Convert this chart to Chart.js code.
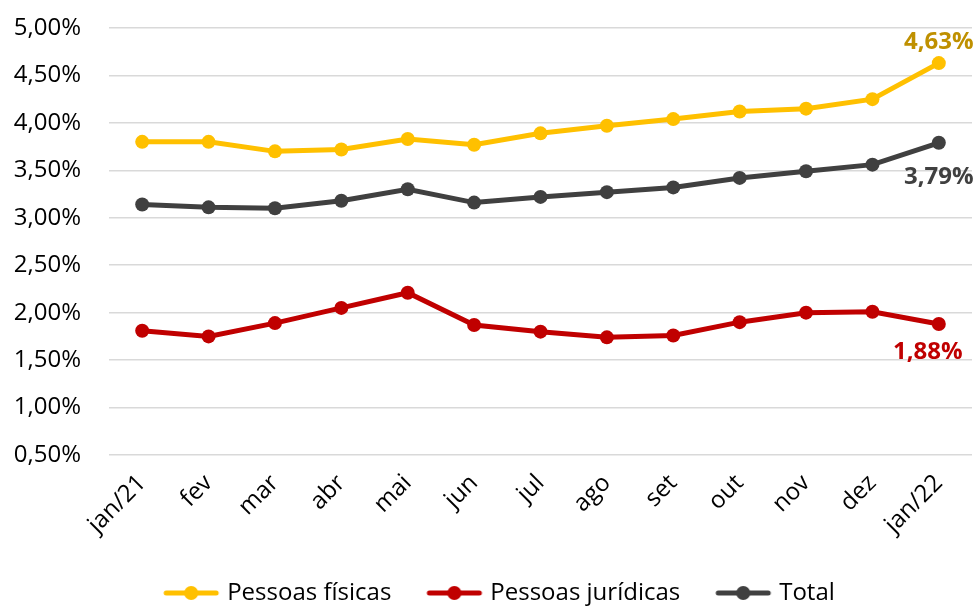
<!DOCTYPE html><html lang="pt"><meta charset="utf-8">
<title>Inadimplência</title>
<script src="https://cdn.jsdelivr.net/npm/chart.js@4.4.1"></script>
<style>
body{margin:0;background:#fff}
#wrap{width:979px;height:607px}
</style>
<body>
<div id="wrap"><canvas id="chart" width="979" height="607"></canvas></div>
<script>
const meses = ['jan/21','fev','mar','abr','mai','jun','jul','ago','set','out','nov','dez','jan/22'];
const pessoasFisicas  = [3.80,3.80,3.70,3.72,3.83,3.77,3.89,3.97,4.04,4.12,4.15,4.25,4.63];
const pessoasJuridicas= [1.81,1.75,1.89,2.05,2.21,1.87,1.80,1.74,1.76,1.90,2.00,2.01,1.88];
const total           = [3.14,3.11,3.10,3.18,3.30,3.16,3.22,3.27,3.32,3.42,3.49,3.56,3.79];

const FONT = '"Open Sans", "Noto Sans", sans-serif';
const pct = v => v.toFixed(2).replace('.', ',') + '%';

// marcador da legenda: linha + bolinha
function marker(color){
  const c = document.createElement('canvas');
  c.width = 58; c.height = 16;
  const g = c.getContext('2d');
  g.strokeStyle = color; g.lineWidth = 5; g.lineCap = 'round';
  g.beginPath(); g.moveTo(4,8); g.lineTo(54,8); g.stroke();
  g.fillStyle = color; g.beginPath(); g.arc(29,8,7,0,Math.PI*2); g.fill();
  return c;
}

// rótulo só no último ponto
const lastLabel = {
  id:'lastLabel',
  afterLayout(chart){            // legenda um pouco à direita, como no original
    chart.legend.left += 15; chart.legend.right += 15;
  },
  afterDatasetsDraw(chart){
    const {ctx} = chart;
    chart.data.datasets.forEach((ds,i)=>{
      const pt = chart.getDatasetMeta(i).data.at(-1);
      const o = ds.lastLabel;
      ctx.save();
      ctx.font = 'bold 24px ' + FONT;
      ctx.fillStyle = o.color;
      ctx.textAlign = 'center';
      ctx.textBaseline = 'middle';
      ctx.fillText(pct(ds.data.at(-1)), pt.x + o.dx, pt.y + o.dy);
      ctx.restore();
    });
  }
};

function serie(label, data, color, labelColor, dx, dy){
  return {label, data, borderColor:color, backgroundColor:color,
    borderWidth:5, pointRadius:7, pointHoverRadius:7, pointBorderWidth:0,
    pointStyle:'circle', tension:0, lastLabel:{color:labelColor,dx,dy},
    legendMarker:marker(color)};
}

new Chart(document.getElementById('chart'),{
  type:'line',
  data:{labels:meses,datasets:[
    serie('Pessoas físicas', pessoasFisicas, '#FFC000', '#BF9000', 0, -21),
    serie('Pessoas jurídicas', pessoasJuridicas, '#C00000', '#C00000', -11, 28),
    serie('Total', total, '#404040', '#404040', 0, 34)
  ]},
  plugins:[lastLabel],
  options:{
    animation:false, responsive:false,
    layout:{padding:{top:28,right:7,left:0,bottom:-8}},
    scales:{
      y:{min:0.5,max:5,
         ticks:{stepSize:0.5,color:'#000',font:{family:FONT,size:24},padding:28,callback:v=>pct(v)},
         grid:{color:'#d9d9d9',lineWidth:1.5,drawTicks:false},
         border:{display:false},
         afterFit(s){ s.width = 109; s.paddingTop = 0; s.paddingBottom = 0; }},
      x:{offset:true,
         ticks:{color:'#000',font:{family:FONT,size:24},minRotation:45,maxRotation:45,padding:6},
         grid:{display:false},
         border:{display:false},
         afterFit(s){ s.height = 87; s.paddingLeft = 0; s.paddingRight = 0; }}
    },
    plugins:{
      tooltip:{enabled:false},
      legend:{position:'bottom',
        labels:{usePointStyle:true,pointStyleWidth:48,padding:39,color:'#000',
          font:{family:FONT,size:24},
          generateLabels(chart){
            return chart.data.datasets.map((ds,i)=>({
              text:ds.label, pointStyle:ds.legendMarker, fontColor:'#000',
              strokeStyle:ds.borderColor, fillStyle:ds.borderColor, lineWidth:0,
              hidden:false, datasetIndex:i}));
          }}}
    }
  }
});
</script>
</body></html>
